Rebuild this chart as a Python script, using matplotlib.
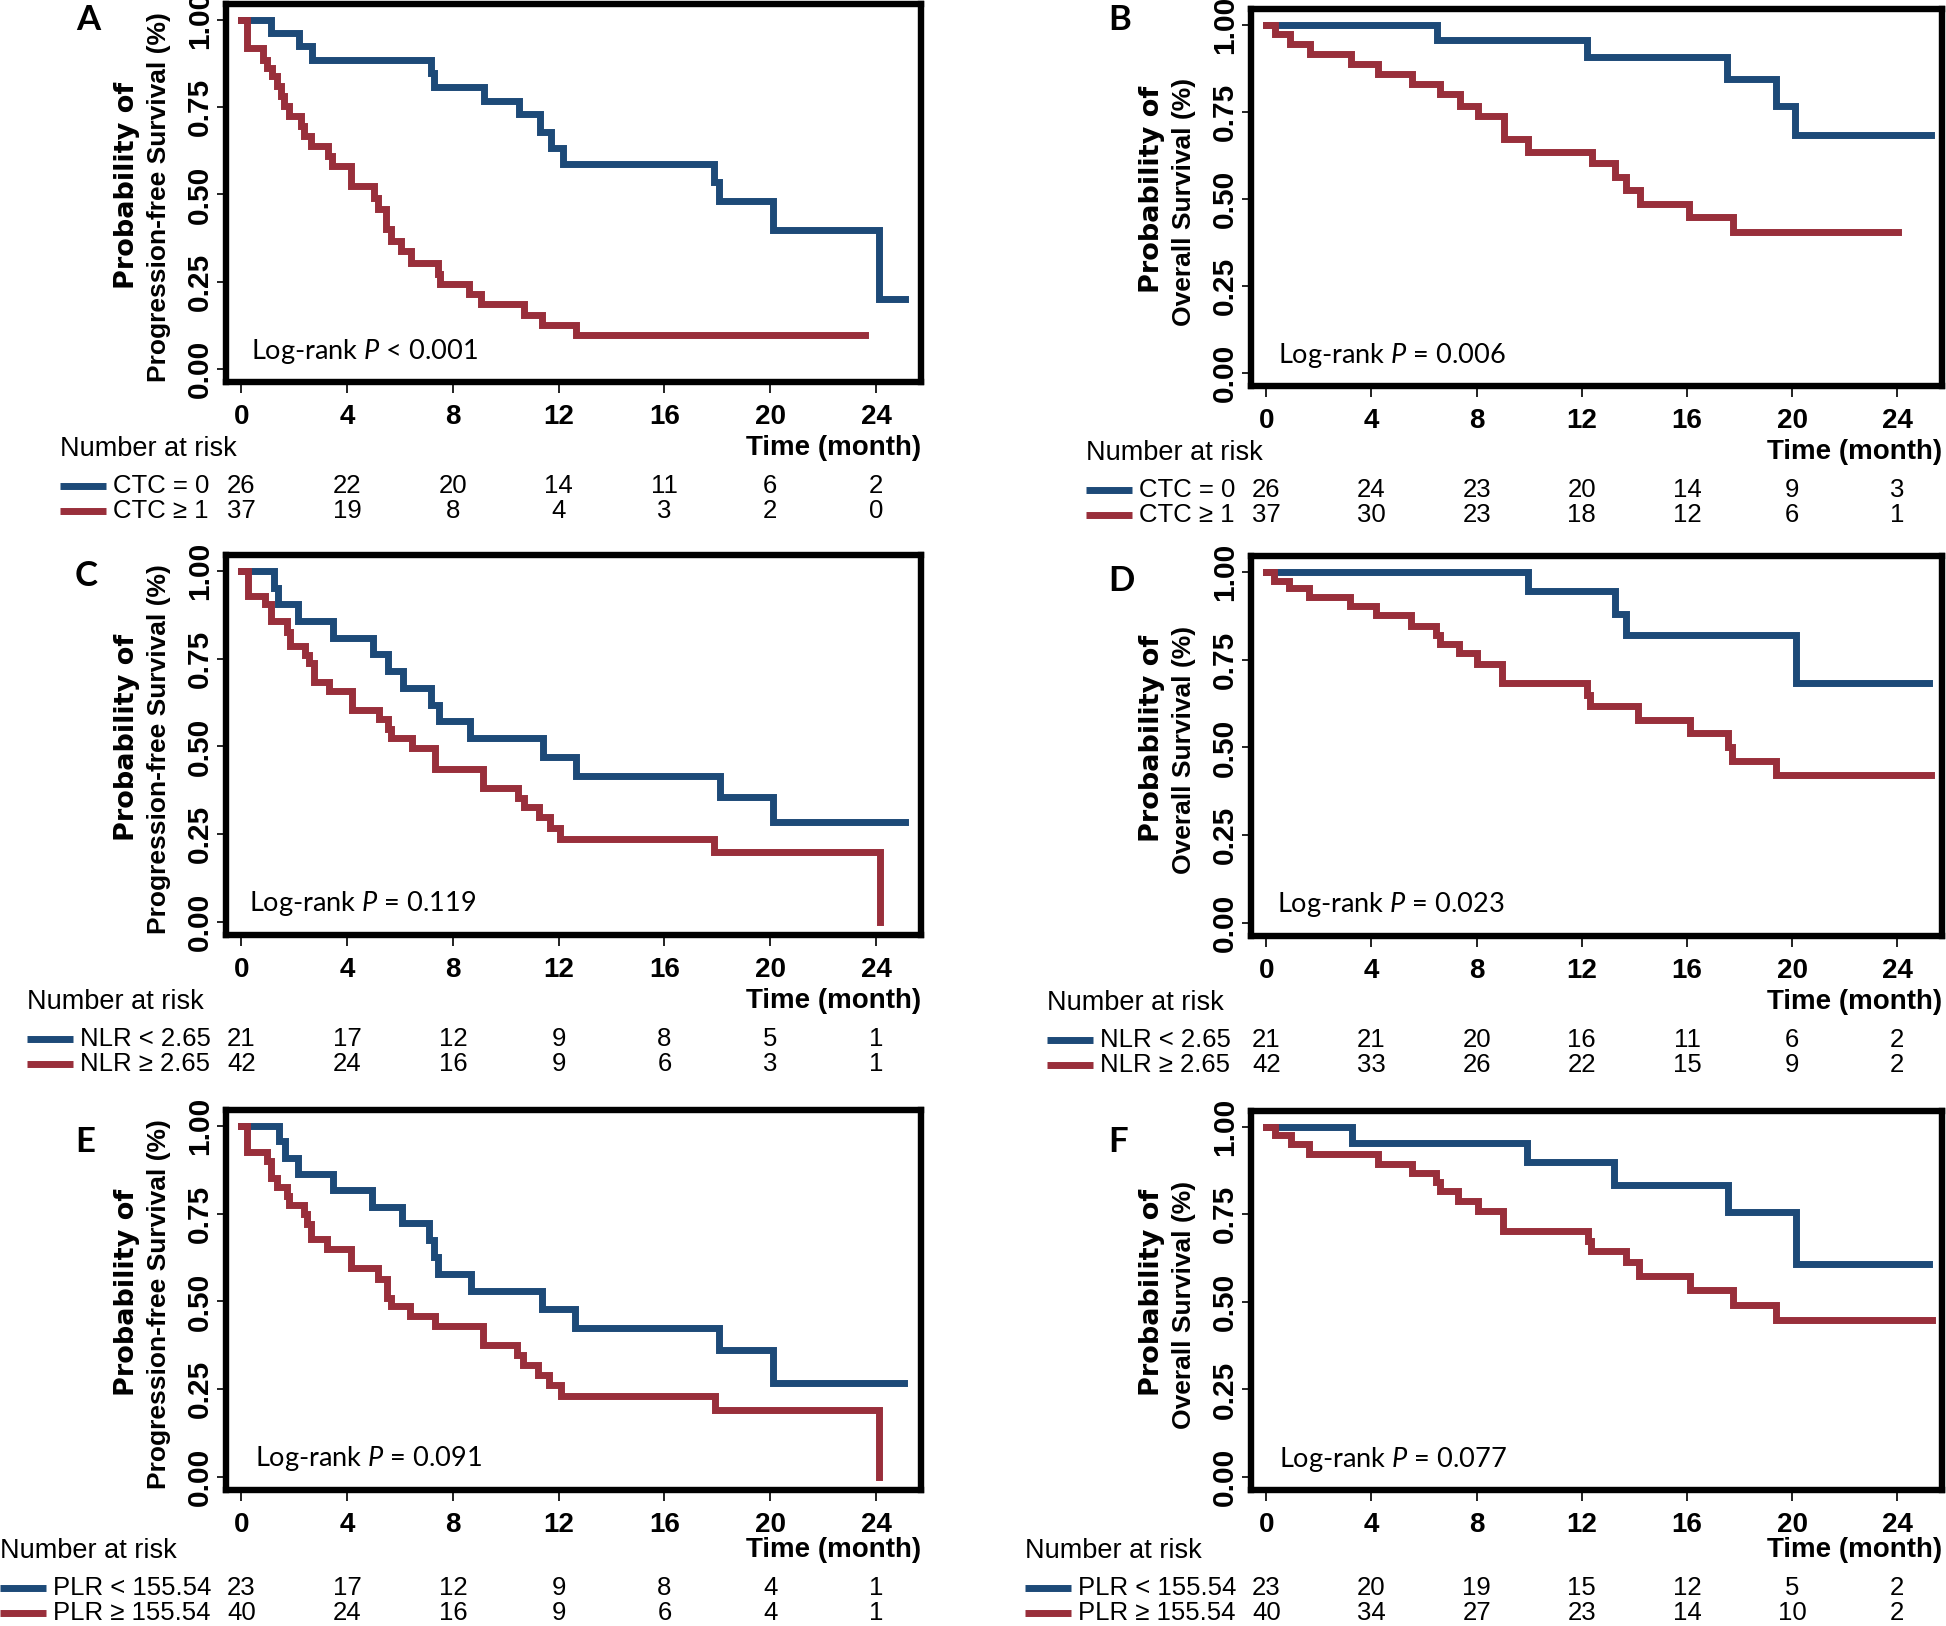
import matplotlib
matplotlib.use("Agg")
import matplotlib.pyplot as plt
import matplotlib.transforms as mtransforms
from matplotlib.lines import Line2D

plt.rcParams['mathtext.fontset'] = 'custom'
plt.rcParams['mathtext.rm'] = 'Lato'
plt.rcParams['mathtext.it'] = 'Lato:italic'

W, H = 1946, 1626
BLUE = '#1d4a78'
RED = '#992f3b'

# ---- data ----
xticks = [0, 4, 8, 12, 16, 20, 24]
yticks = [0.0, 0.25, 0.50, 0.75, 1.00]
ytick_labels = ['0.00', '0.25', '0.50', '0.75', '1.00']
risk_times = [0, 4, 8, 12, 16, 20, 24]

panel_letters = ['A', 'B', 'C', 'D', 'E', 'F']
pvalue_text = [r'Log-rank $P$ < 0.001', r'Log-rank $P$ = 0.006',
               r'Log-rank $P$ = 0.119', r'Log-rank $P$ = 0.023',
               r'Log-rank $P$ = 0.091', r'Log-rank $P$ = 0.077']
ylabel_top = 'Probability of'
ylabel_bottom = ['Progression-free Survival (%)', 'Overall Survival (%)'] * 3
group_names = [('CTC = 0', 'CTC \u2265 1'), ('CTC = 0', 'CTC \u2265 1'),
               ('NLR < 2.65', 'NLR \u2265 2.65'), ('NLR < 2.65', 'NLR \u2265 2.65'),
               ('PLR < 155.54', 'PLR \u2265 155.54'), ('PLR < 155.54', 'PLR \u2265 155.54')]

# A: PFS by CTC
a_low_t = [0, 1.11, 2.18, 2.69, 7.17, 7.27, 9.19, 10.5, 11.28, 11.7, 12.16, 17.88, 18.06, 20.12, 24.1, 25.1]
a_low_s = [1, 0.962, 0.924, 0.886, 0.847, 0.808, 0.767, 0.729, 0.679, 0.633, 0.586, 0.536, 0.48, 0.398, 0.201, 0.201]
a_high_t = [0, 0.23, 0.83, 0.98, 1.17, 1.34, 1.49, 1.62, 1.8, 2.25, 2.37, 2.63, 3.26, 3.41, 4.14, 5.0, 5.15,
            5.47, 5.65, 6.03, 6.41, 7.42, 7.5, 8.62, 9.06, 10.7, 11.37, 12.67, 23.6]
a_high_s = [1, 0.919, 0.886, 0.861, 0.838, 0.81, 0.781, 0.752, 0.724, 0.695, 0.667, 0.638, 0.61, 0.581, 0.524,
            0.49, 0.457, 0.40, 0.366, 0.338, 0.305, 0.271, 0.243, 0.214, 0.186, 0.155, 0.126, 0.097, 0.097]
# B: OS by CTC
b_low_t = [0, 6.48, 12.18, 17.54, 19.38, 20.11, 25.3]
b_low_s = [1, 0.957, 0.908, 0.845, 0.768, 0.684, 0.684]
b_high_t = [0, 0.34, 0.92, 1.66, 3.22, 4.25, 5.56, 6.6, 7.36, 8.05, 9.03, 9.95, 12.37, 13.26, 13.68, 14.2,
            16.09, 17.77, 24.02]
b_high_s = [1, 0.974, 0.945, 0.916, 0.887, 0.858, 0.829, 0.8, 0.768, 0.737, 0.671, 0.636, 0.604, 0.563, 0.525,
            0.486, 0.448, 0.404, 0.404]
# C: PFS by NLR
c_low_t = [0, 1.23, 1.39, 2.13, 3.48, 4.98, 5.54, 6.1, 7.18, 7.49, 8.64, 11.42, 12.67, 18.1, 20.12, 25.1]
c_low_s = [1, 0.952, 0.905, 0.857, 0.81, 0.762, 0.714, 0.667, 0.619, 0.571, 0.524, 0.47, 0.416, 0.357, 0.286, 0.286]
c_high_t = [0, 0.27, 0.9, 1.12, 1.73, 1.84, 2.4, 2.56, 2.74, 3.3, 4.19, 5.2, 5.54, 5.65, 6.44, 7.33, 9.13,
            10.48, 10.7, 11.26, 11.66, 12.04, 17.88, 24.16]
c_high_s = [1, 0.929, 0.905, 0.857, 0.826, 0.786, 0.761, 0.737, 0.682, 0.658, 0.604, 0.579, 0.549, 0.523,
            0.495, 0.436, 0.382, 0.352, 0.327, 0.298, 0.268, 0.237, 0.199, 0.0]
# D: OS by NLR
d_low_t = [0, 9.94, 13.28, 13.69, 20.13, 25.2]
d_low_s = [1, 0.946, 0.881, 0.82, 0.684, 0.684]
d_high_t = [0, 0.28, 0.87, 1.61, 3.18, 4.19, 5.52, 6.45, 6.6, 7.32, 8.01, 8.97, 12.2, 12.3, 14.15, 16.1,
            17.56, 17.72, 19.4, 25.3]
d_high_s = [1, 0.975, 0.953, 0.929, 0.903, 0.876, 0.847, 0.82, 0.794, 0.768, 0.738, 0.682, 0.649, 0.617,
            0.577, 0.541, 0.502, 0.462, 0.422, 0.422]
# E: PFS by PLR
e_low_t = [0, 1.41, 1.64, 2.13, 3.48, 4.93, 6.06, 7.11, 7.29, 7.45, 8.68, 11.37, 12.63, 18.06, 20.12, 25.06]
e_low_s = [1, 0.957, 0.909, 0.863, 0.816, 0.769, 0.723, 0.674, 0.626, 0.577, 0.531, 0.479, 0.423, 0.362, 0.269, 0.269]
e_high_t = [0, 0.22, 0.96, 1.12, 1.35, 1.73, 1.8, 2.36, 2.47, 2.65, 3.25, 4.15, 5.16, 5.5, 5.65, 6.39, 7.33,
            9.15, 10.43, 10.66, 11.22, 11.62, 12.07, 17.9, 24.11]
e_high_s = [1, 0.924, 0.9, 0.85, 0.826, 0.8, 0.775, 0.75, 0.721, 0.677, 0.648, 0.594, 0.565, 0.51, 0.486,
            0.459, 0.43, 0.376, 0.347, 0.318, 0.29, 0.261, 0.23, 0.19, 0.0]
# F: OS by PLR
f_low_t = [0, 3.25, 9.93, 13.22, 17.55, 20.13, 25.2]
f_low_s = [1, 0.954, 0.898, 0.833, 0.757, 0.608, 0.608]
f_high_t = [0, 0.32, 0.94, 1.64, 4.24, 5.55, 6.47, 6.61, 7.3, 8.04, 9.0, 12.23, 12.34, 13.68, 14.19, 16.1,
            17.76, 19.39, 25.31]
f_high_s = [1, 0.976, 0.95, 0.923, 0.895, 0.868, 0.843, 0.816, 0.788, 0.759, 0.702, 0.673, 0.644, 0.615,
            0.574, 0.533, 0.491, 0.447, 0.447]

# numbers at risk
a_risk = ([26, 22, 20, 14, 11, 6, 2], [37, 19, 8, 4, 3, 2, 0])
b_risk = ([26, 24, 23, 20, 14, 9, 3], [37, 30, 23, 18, 12, 6, 1])
c_risk = ([21, 17, 12, 9, 8, 5, 1], [42, 24, 16, 9, 6, 3, 1])
d_risk = ([21, 21, 20, 16, 11, 6, 2], [42, 33, 26, 22, 15, 9, 2])
e_risk = ([23, 17, 12, 9, 8, 4, 1], [40, 24, 16, 9, 6, 4, 1])
f_risk = ([23, 20, 19, 15, 12, 5, 2], [40, 34, 27, 23, 14, 10, 2])

curves = [((a_low_t, a_low_s), (a_high_t, a_high_s)),
          ((b_low_t, b_low_s), (b_high_t, b_high_s)),
          ((c_low_t, c_low_s), (c_high_t, c_high_s)),
          ((d_low_t, d_low_s), (d_high_t, d_high_s)),
          ((e_low_t, e_low_s), (e_high_t, e_high_s)),
          ((f_low_t, f_low_s), (f_high_t, f_high_s))]
risks = [a_risk, b_risk, c_risk, d_risk, e_risk, f_risk]

# ---- layout (pixels in the 1946x1626 canvas) ----
boxes = [(226, 4, 921, 382), (1251, 9, 1942, 386),
         (226, 555, 921, 935), (1251, 556, 1942, 936),
         (226, 1110, 921, 1490), (1251, 1111, 1942, 1490)]
legend_x = [60, 1086, 27, 1047, 0, 1025]
letter_xy = [(88, 20), (1120, 20), (86, 576), (1121, 581), (85, 1142), (1118, 1142)]
logrank_x = [0.36, 0.45, 0.3, 0.42, 0.52, 0.48]
table_shift = [3, 3, 3, 3, -3, -3]   # small per-panel nudges of the risk table


def fx(x):
    return x / W


def fy(y):
    return 1 - y / H


fig = plt.figure(figsize=(W / 100, H / 100), dpi=100)
fig.patch.set_facecolor('white')

for i in range(6):
    x0, y0, x1, y1 = boxes[i]
    ax = fig.add_axes([fx(x0), fy(y1), (x1 - x0) / W, (y1 - y0) / H])
    (lt, ls), (ht, hs) = curves[i]
    ax.step(lt, ls, where='post', color=BLUE, lw=5, solid_joinstyle='miter')
    ax.step(ht, hs, where='post', color=RED, lw=5, solid_joinstyle='miter')
    ax.set_xlim(-0.58, 25.7)
    ax.set_ylim(-0.037, 1.045)

    for sp in ax.spines.values():
        sp.set_linewidth(4.6)
        sp.set_color('black')

    ax.set_xticks(xticks)
    ax.set_xticklabels([str(v) for v in xticks], fontsize=20, fontweight='bold',
                       family='Liberation Sans')
    ax.tick_params(axis='x', length=8, width=1.4, pad=8, color='#222222')
    ax.set_yticks(yticks)
    ax.set_yticklabels(ytick_labels, rotation=90, va='center', fontsize=21.5,
                       fontweight='bold', family='Liberation Sans')
    ax.tick_params(axis='y', length=6.5, width=1.4, pad=2, color='#222222')

    ax.text(logrank_x[i], 0.03, pvalue_text[i], fontsize=19.5, family='Lato',
            va='baseline', ha='left')

    # y axis title in two lines
    yc = (y0 + y1) / 2
    fig.text(fx(x0 - 99), fy(yc - 8), ylabel_top, rotation=90, ha='center', va='center',
             fontsize=19.5, fontweight='bold', family='DejaVu Sans')
    fig.text(fx(x0 - 67), fy(yc + 4), ylabel_bottom[i], rotation=90, ha='center', va='center',
             fontsize=19, fontweight='bold', family='Liberation Sans')

    # panel letter
    lx, ly = letter_xy[i]
    fig.text(fx(lx), fy(ly), panel_letters[i], ha='center', va='center',
             fontsize=25, fontweight='bold', family='Lato')

    # number at risk table
    dy = table_shift[i]
    fig.text(fx(legend_x[i]), fy(y1 + 64 + dy), 'Number at risk', ha='left', va='center',
             fontsize=19.5, family='Liberation Sans')
    fig.text(fx(x1), fy(y1 + 63 + dy), 'Time (month)', ha='right', va='center',
             fontsize=20, fontweight='bold', family='Liberation Sans')
    trans = mtransforms.blended_transform_factory(ax.transData, fig.transFigure)
    for row, (color, name, counts) in enumerate(zip((BLUE, RED), group_names[i], risks[i])):
        ry = y1 + 101 + dy + 25 * row
        fig.add_artist(Line2D([fx(legend_x[i]), fx(legend_x[i] + 46)], [fy(ry), fy(ry)],
                              color=color, lw=5, solid_capstyle='butt'))
        fig.text(fx(legend_x[i] + 53), fy(ry), name, ha='left', va='center',
                 fontsize=18.5, family='Liberation Sans')
        for t, n in zip(risk_times, counts):
            ax.text(t, fy(ry), str(n), transform=trans, ha='center', va='center',
                    fontsize=18.5, family='Liberation Sans', clip_on=False)

fig.savefig('out.png', dpi=100, facecolor='white')
